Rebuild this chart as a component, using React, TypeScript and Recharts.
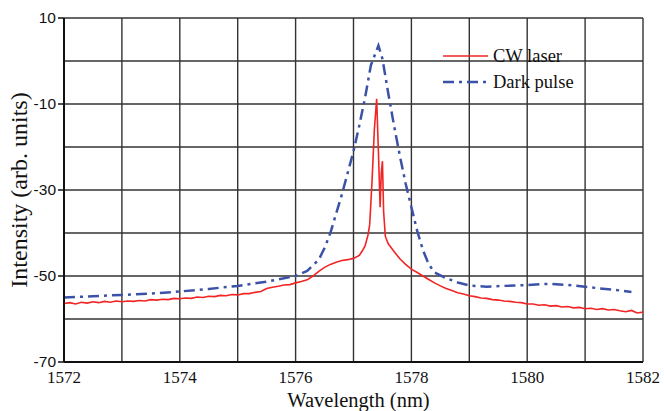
import { LineChart, Line, XAxis, YAxis, CartesianGrid } from "recharts";

// CW laser trace (nm, dB)
const cwWavelength = [
  1572.0, 1572.1, 1572.2, 1572.3, 1572.4, 1572.5, 1572.6, 1572.7, 1572.8, 1572.9,
  1573.0, 1573.1, 1573.2, 1573.3, 1573.4, 1573.5, 1573.6, 1573.7, 1573.8, 1573.9,
  1574.0, 1574.1, 1574.2, 1574.3, 1574.4, 1574.5, 1574.6, 1574.7, 1574.8, 1574.9,
  1575.0, 1575.1, 1575.2, 1575.3, 1575.4, 1575.5, 1575.6, 1575.7, 1575.8, 1575.9,
  1576.0, 1576.1, 1576.2, 1576.3, 1576.4, 1576.5, 1576.6, 1576.7, 1576.8, 1576.9,
  1577.0, 1577.1, 1577.15, 1577.2, 1577.25, 1577.28, 1577.32, 1577.36, 1577.4, 1577.43,
  1577.46, 1577.48, 1577.5, 1577.52, 1577.55, 1577.6, 1577.7, 1577.8, 1577.9,
  1578.0, 1578.1, 1578.2, 1578.3, 1578.4, 1578.5, 1578.6, 1578.7, 1578.8, 1578.9,
  1579.0, 1579.1, 1579.2, 1579.3, 1579.4, 1579.5, 1579.6, 1579.7, 1579.8, 1579.9,
  1580.0, 1580.1, 1580.2, 1580.3, 1580.4, 1580.5, 1580.6, 1580.7, 1580.8, 1580.9,
  1581.0, 1581.1, 1581.2, 1581.3, 1581.4, 1581.5, 1581.6, 1581.7, 1581.8, 1581.9, 1582.0,
];
const cwIntensity = [
  -56.4, -56.2, -56.5, -56.1, -56.3, -56.0, -56.2, -55.9, -56.1, -55.8,
  -56.0, -55.8, -55.9, -55.7, -55.8, -55.5, -55.6, -55.4, -55.5, -55.2,
  -55.3, -55.1, -55.2, -54.9, -55.0, -54.7, -54.8, -54.5, -54.6, -54.3,
  -54.4, -54.1, -54.1, -53.8, -53.6, -52.9, -52.6, -52.4, -52.1, -52.0,
  -51.6, -51.3, -50.9, -50.0, -48.9, -48.0, -47.3, -46.8, -46.4, -46.2,
  -45.9, -45.2, -44.2, -43.0, -40.5, -38.0, -28.0, -16.0, -8.8, -21.0,
  -34.0, -26.0, -23.3, -35.0, -40.8, -42.5, -44.3, -46.0, -47.3,
  -48.4, -49.2, -50.0, -50.8, -51.6, -52.3, -52.9, -53.4, -53.9, -54.2,
  -54.6, -54.8, -55.1, -55.2, -55.5, -55.6, -55.8, -55.9, -56.1, -56.2,
  -56.5, -56.5, -56.8, -56.7, -57.0, -56.9, -57.2, -57.1, -57.4, -57.3,
  -57.6, -57.5, -57.8, -57.6, -57.9, -57.8, -58.1, -58.3, -58.0, -58.6, -58.4,
];

// Dark pulse spectrum
const pulseWavelength = [
  1572.0, 1572.5, 1573.0, 1573.5, 1574.0, 1574.5, 1575.0, 1575.5, 1576.0, 1576.2,
  1576.4, 1576.5, 1576.6, 1576.7, 1576.8, 1576.9, 1577.0, 1577.1, 1577.2, 1577.3,
  1577.43, 1577.5, 1577.6, 1577.7, 1577.8, 1577.9, 1578.0, 1578.1, 1578.2, 1578.3,
  1578.4, 1578.6, 1578.8, 1579.0, 1579.3, 1579.6, 1580.0, 1580.4, 1580.8, 1581.2,
  1581.5, 1581.8,
];
const pulseIntensity = [
  -55.0, -54.7, -54.4, -54.1, -53.6, -53.0, -52.3, -51.3, -50.0, -48.8,
  -46.2, -43.5, -40.0, -35.5, -31.0, -26.0, -21.0, -15.0, -8.5, -1.0,
  3.6, 0.5, -7.5, -15.0, -22.0, -28.5, -34.0, -39.5, -44.0, -47.3,
  -49.2, -50.5, -51.5, -52.2, -52.5, -52.3, -52.1, -51.8, -52.2, -52.8,
  -53.2, -53.7,
];

const xTicks = [1572, 1573, 1574, 1575, 1576, 1577, 1578, 1579, 1580, 1581, 1582];
const xLabels = [1572, 1574, 1576, 1578, 1580, 1582];
const yTicks = [-70, -60, -50, -40, -30, -20, -10, 0, 10];
const yLabels = [-70, -50, -30, -10, 10];

const cwData = cwWavelength.map((x, i) => ({ x, y: cwIntensity[i] }));
const pulseData = pulseWavelength.map((x, i) => ({ x, y: pulseIntensity[i] }));

const SERIF = "Liberation Serif";
const SANS = "Liberation Sans";
const RED = "#f22424";
const BLUE = "#3b52a8";

function YTick({ x, y, payload }: any) {
  if (!yLabels.includes(payload.value)) return null;
  return (
    <g>
      <line x1={x + 2} x2={x + 8} y1={y} y2={y} stroke="#111" strokeWidth={1.5} />
      <text x={x} y={y} dy="0.35em" textAnchor="end" fontSize={15.5} fontFamily={SANS} fill="#111">
        {payload.value}
      </text>
    </g>
  );
}

function XTick({ x, y, payload }: any) {
  if (!xLabels.includes(payload.value)) return null;
  return (
    <text x={x} y={y} dy="0.75em" textAnchor="middle" fontSize={17} fontFamily={SERIF} fill="#111">
      {payload.value}
    </text>
  );
}

function LegendBox() {
  const rows = [
    { name: "CW laser", color: RED, width: 1.6, dash: undefined },
    { name: "Dark pulse", color: BLUE, width: 2.5, dash: "11 5 3 5" },
  ];
  return (
    <div style={{ position: "absolute", left: 443, top: 43 }}>
      {rows.map((r) => (
        <div key={r.name} style={{ display: "flex", alignItems: "center", height: 26 }}>
          <svg width={50} height={26}>
            <line x1={0} x2={45} y1={13} y2={13} stroke={r.color} strokeWidth={r.width} strokeDasharray={r.dash} />
          </svg>
          <span style={{ fontFamily: SERIF, fontSize: 18.5, color: "#111", lineHeight: "26px" }}>{r.name}</span>
        </div>
      ))}
    </div>
  );
}

export default function App() {
  return (
    <div style={{ position: "absolute", left: 0, top: 0, width: 664, height: 411, background: "#fff" }}>
      <LineChart width={664} height={411} margin={{ top: 18, right: 21, bottom: 0, left: 0 }}>
        <CartesianGrid stroke="#333" strokeWidth={1.4} />
        <XAxis
          dataKey="x"
          type="number"
          domain={[1572, 1582]}
          ticks={xTicks}
          tickLine={false}
          tickSize={6}
          tickMargin={2}
          height={49}
          axisLine={{ stroke: "#111", strokeWidth: 2 }}
          tick={<XTick />}
          interval={0}
          allowDataOverflow
          label={{
            content: ({ viewBox }: any) => (
              <text
                x={viewBox.x + viewBox.width / 2 + 5}
                y={viewBox.y + viewBox.height - 4}
                textAnchor="middle"
                fontFamily={SERIF}
                fontSize={20.5}
                fill="#111"
              >
                Wavelength (nm)
              </text>
            ),
          }}
        />
        <XAxis xAxisId="top" orientation="top" type="number" domain={[1572, 1582]} height={0} tick={false} tickLine={false} axisLine={{ stroke: "#111", strokeWidth: 2 }} />
        <YAxis
          type="number"
          domain={[-70, 10]}
          ticks={yTicks}
          width={64}
          tickLine={false}
          tickSize={6}
          tickMargin={2}
          interval={0}
          axisLine={{ stroke: "#111", strokeWidth: 2 }}
          tick={<YTick />}
          allowDataOverflow
          label={{
            content: ({ viewBox }: any) => {
              const cy = viewBox.y + viewBox.height / 2;
              return (
                <text
                  x={19}
                  y={cy}
                  transform={`rotate(-90, 19, ${cy})`}
                  textAnchor="middle"
                  dominantBaseline="central"
                  fontFamily={SERIF}
                  fontSize={24}
                  fill="#111"
                >
                  Intensity (arb. units)
                </text>
              );
            },
          }}
        />
        <YAxis yAxisId="right" orientation="right" type="number" domain={[-70, 10]} width={0} tick={false} tickLine={false} axisLine={{ stroke: "#111", strokeWidth: 2 }} />
        <Line
          data={cwData}
          dataKey="y"
          name="CW laser"
          type="linear"
          stroke={RED}
          strokeWidth={1.6}
          dot={false}
          isAnimationActive={false}
        />
        <Line
          data={pulseData}
          dataKey="y"
          name="Dark pulse"
          type="linear"
          stroke={BLUE}
          strokeWidth={2.5}
          strokeDasharray="11 5 3 5"
          dot={false}
          isAnimationActive={false}
        />
      </LineChart>
      <LegendBox />
    </div>
  );
}
